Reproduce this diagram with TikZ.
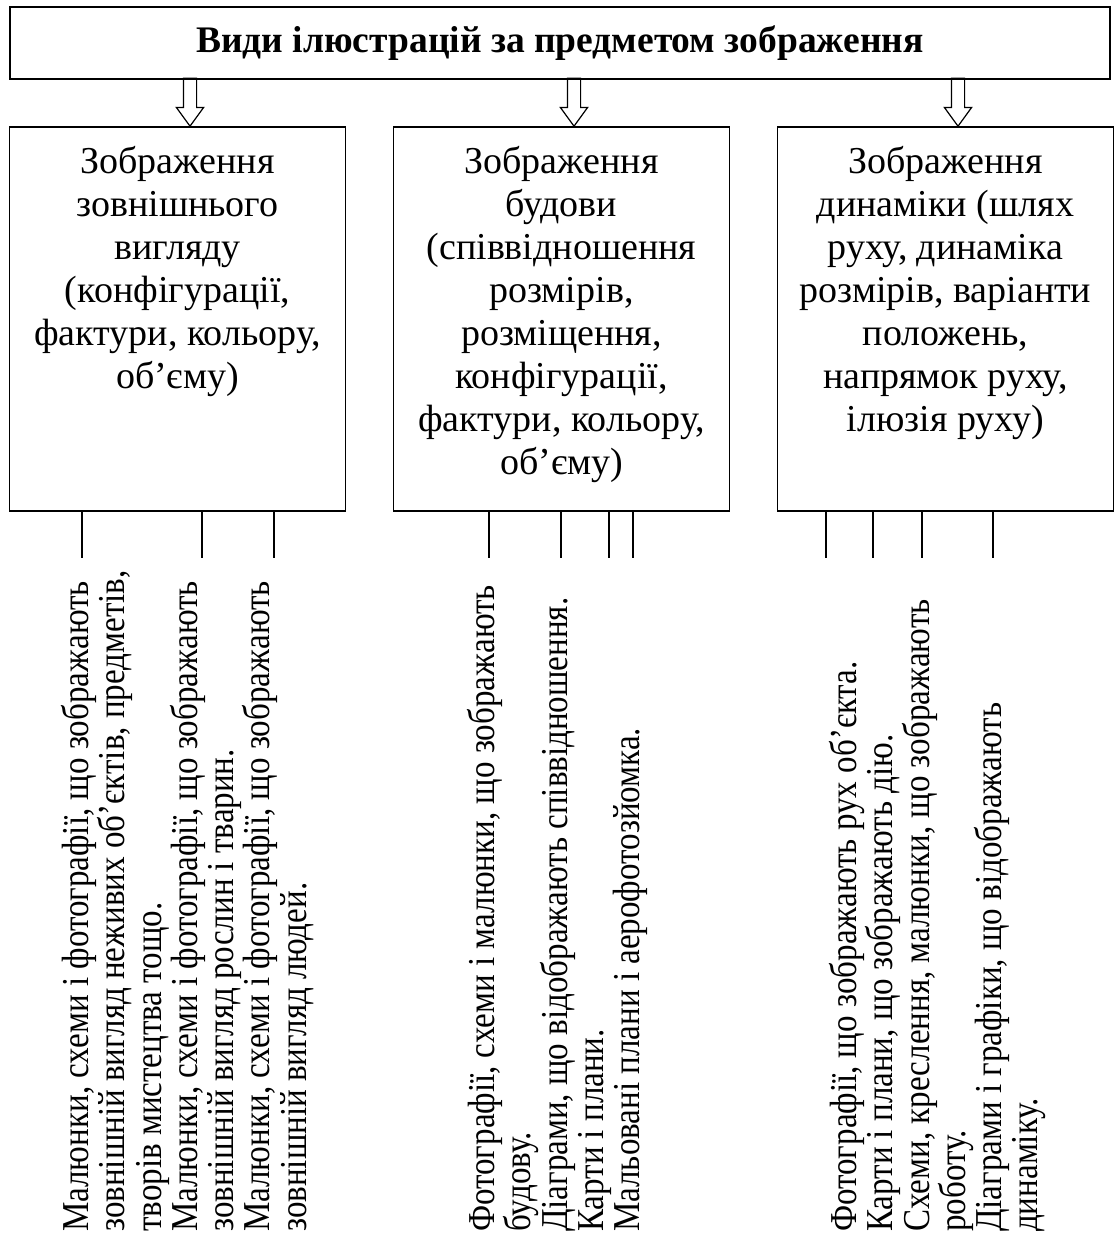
\documentclass[tikz,border=0pt]{standalone}
\usepackage{fontspec}
\setmainfont{Liberation Serif}
\usepackage{tikz}
\usetikzlibrary{positioning,shapes.arrows}

\begin{document}
\begin{tikzpicture}[x=1pt,y=-1pt,
	box/.style={draw,line width=1.6pt,minimum width=336pt,minimum height=384pt,inner sep=0pt},
	boxtext/.style={align=center,inner sep=0pt,font=\fontsize{38}{43}\selectfont},
	itemtext/.style={align=left,inner sep=0pt,rotate=90,xscale=0.87,anchor=north west,font=\fontsize{38}{36.3}\selectfont},
	downarrow/.style={single arrow,draw,line width=1.2pt,shape border rotate=270,minimum height=48pt,minimum width=26pt,inner sep=6pt,single arrow head extend=7pt,single arrow tip angle=72,anchor=tip,outer sep=0pt}]
		\useasboundingbox (0,0) rectangle (1114,1250);

		\node[draw,line width=1.6pt,minimum width=1100pt,minimum height=72pt,font=\bfseries\fontsize{37.5}{43}\selectfont] (TITLE) at (560,43) {Види ілюстрацій за предметом зображення};

		\node[box] (B1) at (177.5,319) {};
		\node[box] (B2) at (561.5,319) {};
		\node[box] (B3) at (945.5,319) {};

		\node[downarrow] (A1) at ([xshift=12.5pt]B1.north) {};
		\node[downarrow] (A2) at ([xshift=12.5pt]B2.north) {};
		\node[downarrow] (A3) at ([xshift=12.5pt]B3.north) {};

		\node[boxtext,below=20pt of B1.north] (T1) {Зображення\\зовнішнього\\вигляду\\(конфігурації,\\фактури, кольору,\\об’єму)};
		\node[boxtext,below=20pt of B2.north] (T2) {Зображення\\будови\\(співвідношення\\розмірів,\\розміщення,\\конфігурації,\\фактури, кольору,\\об’єму)};
		\node[boxtext,below=20pt of B3.north] (T3) {Зображення\\динаміки (шлях\\руху, динаміка\\розмірів, варіанти\\положень,\\напрямок руху,\\ілюзія руху)};

		% branches
		\foreach \dx in {73,193,265}
			\draw[line width=1.6pt] ([xshift=\dx pt]B1.south west) -- ++(0,46);
		\foreach \dx in {96,168,216,240}
			\draw[line width=1.6pt] ([xshift=\dx pt]B2.south west) -- ++(0,46);
		\foreach \dx in {49,96,145,216}
			\draw[line width=1.6pt] ([xshift=\dx pt]B3.south west) -- ++(0,46);

		\node[itemtext] (R1) at (61,1232) {Малюнки, схеми і фотографії, що зображають\\зовнішній вигляд неживих об’єктів, предметів,\\творів мистецтва тощо.\\Малюнки, схеми і фотографії, що зображають\\зовнішній вигляд рослин і тварин.\\Малюнки, схеми і фотографії, що зображають\\зовнішній вигляд людей.};
		\node[itemtext] (R2) at (467,1232) {Фотографії, схеми і малюнки, що зображають\\будову.\\Діаграми, що відображають співвідношення.\\Карти і плани.\\Мальовані плани і аерофотозйомка.};
		\node[itemtext] (R3) at (829,1232) {Фотографії, що зображають рух об’єкта.\\Карти і плани, що зображають дію.\\Схеми, креслення, малюнки, що зображають\\роботу.\\Діаграми і графіки, що відображають\\динаміку.};
	\end{tikzpicture}
\end{document}
